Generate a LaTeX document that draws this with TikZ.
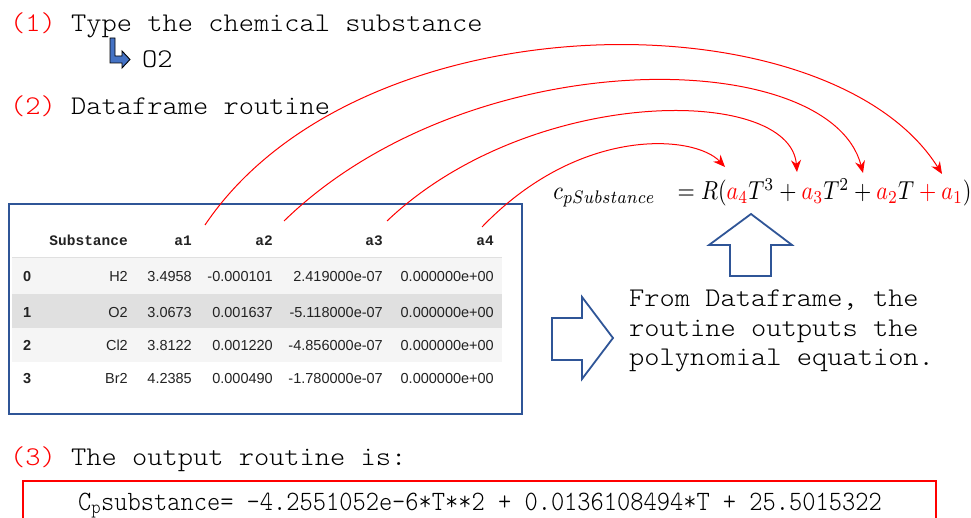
\documentclass[tikz,border=0pt]{standalone}
\usepackage{fontspec}
\usetikzlibrary{arrows.meta}
\newfontfamily\monolt[FakeStretch=1.075]{lmmonolt10-regular.otf}
\newfontfamily\monoltc[FakeStretch=0.90]{lmmonolt10-regular.otf}
\newfontfamily\hdrmono{Liberation Mono}
\newfontfamily\tsans{Liberation Sans}
\definecolor{boxblue}{HTML}{2F5597}
\definecolor{iconblue}{HTML}{4472C4}
\definecolor{rowA}{HTML}{F5F5F5}
\definecolor{rowB}{HTML}{E0E0E0}
\definecolor{tabtext}{HTML}{222222}
\tikzset{
  heading/.style={anchor=base west, inner sep=0pt, font=\fontsize{27}{30}\monolt},
  tcell/.style={anchor=base east, inner sep=0pt, font=\fontsize{14.5}{16}\tsans, text=tabtext},
  thead/.style={anchor=base east, inner sep=0pt, font=\fontsize{14.5}{16}\hdrmono\bfseries, text=tabtext},
  tidx/.style={anchor=base west, inner sep=0pt, font=\fontsize{14.5}{16}\tsans\bfseries, text=tabtext},
  link/.style={red, line width=1pt, -{Stealth[length=12pt,width=10pt]}},
  blockarrow/.style={draw=boxblue, line width=1.8pt, fill=white, line join=miter},
}
\begin{document}
\begin{tikzpicture}[x=1pt,y=-1pt]
\useasboundingbox (0,0) rectangle (971,518);
\clip (0,0) rectangle (971,518);

% headings
\node[heading] (h1) at (10,32) {\textcolor{red}{(1)} Type the chemical substance};
\filldraw[fill=iconblue, draw=black, line width=0.9pt, line join=miter]
  (110,38) -- (115,38) -- (115,56) -- (122,56) -- (122,51) -- (130,59.5) -- (122,68) -- (122,63) -- (110,63) -- cycle;
\node[heading] (o2) at (142,68) {O2};
\node[heading] (h2) at (10,115) {\textcolor{red}{(2)} Dataframe routine};

% table
\fill[rowA] (12,258) rectangle (502,294);
\fill[rowB] (12,294) rectangle (502,328);
\fill[rowA] (12,328) rectangle (502,362);
\draw[black!12, line width=1pt] (12,258) -- (502,258);
\node[draw=boxblue, line width=1.8pt, minimum width=513pt, minimum height=210pt, anchor=north west, inner sep=0pt] (tablebox) at (8,203) {};

\node[thead] (hs) at (128,246) {Substance};
\node[thead] (ha1) at (192,246) {a1};
\node[thead] (ha2) at (273,246) {a2};
\node[thead] (ha3) at (383,246) {a3};
\node[thead] (ha4) at (494,246) {a4};

\foreach \i/\y/\s/\a/\b/\c/\d in {
  0/282/H2/3.4958/-0.000101/2.419000e-07/0.000000e+00,
  1/317/O2/3.0673/0.001637/-5.118000e-07/0.000000e+00,
  2/350/Cl2/3.8122/0.001220/-4.856000e-07/0.000000e+00,
  3/383/Br2/4.2385/0.000490/-1.780000e-07/0.000000e+00}{
  \node[tidx] (idx\i) at (23,\y) {\i};
  \node[tcell] (sub\i) at (128,\y) {\s};
  \node[tcell] (a1r\i) at (192,\y) {\a};
  \node[tcell] (a2r\i) at (273,\y) {\b};
  \node[tcell] (a3r\i) at (383,\y) {\c};
  \node[tcell] (a4r\i) at (494,\y) {\d};
}

% equation
\node[anchor=base west, inner sep=0pt, xscale=2.22, yscale=2.6, transform shape] (eq) at (553,200)
  {$c_{pSubstance}\;\;\,= R(\textcolor{red}{a_4}T^3+\textcolor{red}{a_3}T^2+\textcolor{red}{a_2}T\textcolor{red}{{}+a_1})$};

% connectors
\coordinate (s1) at (205,225);
\coordinate (s2) at (284,221);
\coordinate (s3) at (387,221);
\coordinate (s4) at (482,227);
\coordinate (e1) at (942,174);
\coordinate (e2) at (863,173);
\coordinate (e3) at (797,172);
\coordinate (e4) at (725,167);
\draw[link] (s1) .. controls (360,-5) and (830,-5) .. (e1);
\draw[link] (s2) .. controls (470,40) and (830,45) .. (e2);
\draw[link] (s3) .. controls (530,85) and (790,85) .. (e3);
\draw[link] (s4) .. controls (580,125) and (695,135) .. (e4);

% block arrows
\draw[blockarrow] (730,276) -- (771,276) -- (771,245) -- (792,245) -- (751,214) -- (709,245) -- (730,245) -- cycle;
\draw[blockarrow] (552,318) -- (582,318) -- (582,297) -- (613,338) -- (582,379) -- (582,360) -- (552,360) -- cycle;

\node[heading] (t1) at (629,307) {From Dataframe, the};
\node[heading] (t2) at (629,336) {routine outputs the};
\node[heading] (t3) at (629,365) {polynomial equation.};

% output
\node[heading] (h3) at (10,465) {\textcolor{red}{(3)} The output routine is:};
\draw[red, line width=1.5pt] (23,540) -- (23,481) -- (936,481) -- (936,540);
\node[anchor=base west, inner sep=0pt, font=\fontsize{28}{32}\monoltc] (out) at (78,510)
  {C\textsubscript{p}substance= -4.2551052e-6*T**2 + 0.0136108494*T + 25.5015322};
\end{tikzpicture}
\end{document}
